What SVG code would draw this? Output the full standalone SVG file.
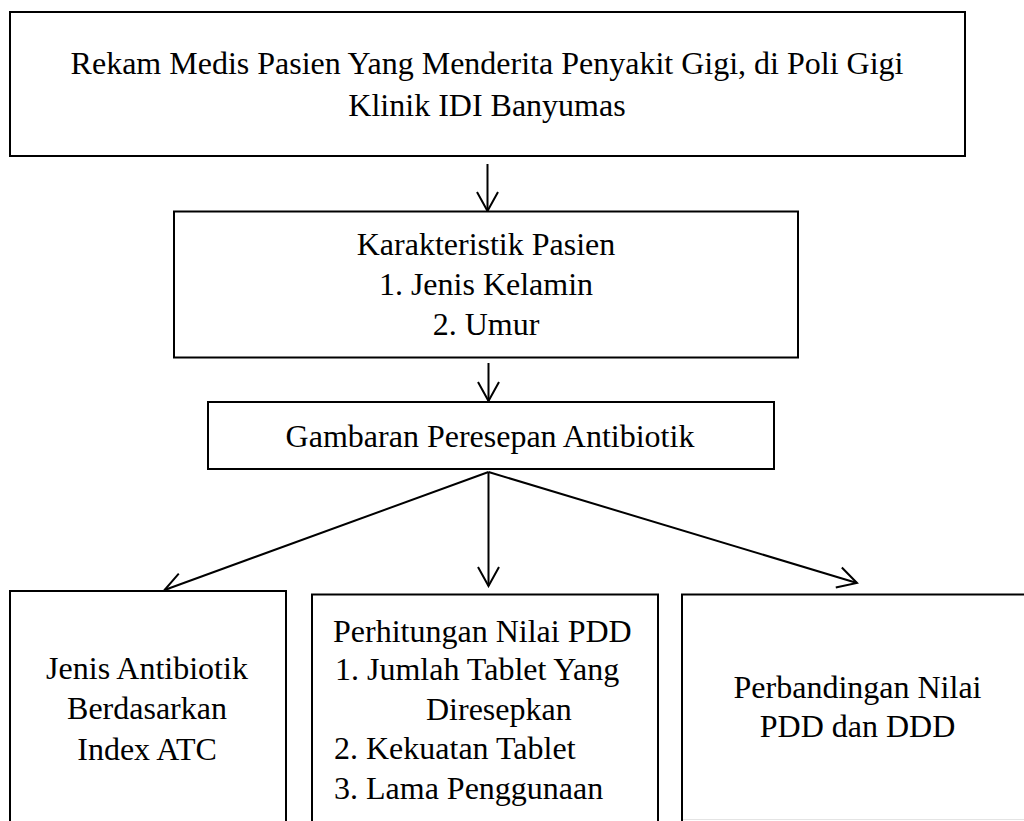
<svg xmlns="http://www.w3.org/2000/svg" width="1024" height="821" viewBox="0 0 1024 821">
<style>
.box{fill:#fff;stroke:#000;stroke-width:2}
.t{font-family:"Liberation Serif","Times New Roman",serif;font-size:32px;fill:#000}
.c{text-anchor:middle}
.conn{stroke:#000;stroke-width:2;fill:none}
</style>
<defs>
<marker id="arr" viewBox="-23 -13 25 26" refX="0" refY="0" markerUnits="userSpaceOnUse" markerWidth="25" markerHeight="26" orient="auto">
<path d="M-19,-10.5 L0,0 L-19,10.5" fill="none" stroke="#000" stroke-width="2"/>
</marker>
</defs>
<rect width="1024" height="821" fill="#fff"/>
<g id="connectors">
<line class="conn" x1="487.5" y1="164" x2="487.5" y2="211" marker-end="url(#arr)"/>
<line class="conn" x1="488.5" y1="363" x2="488.5" y2="401" marker-end="url(#arr)"/>
<line class="conn" x1="488.5" y1="472" x2="164.5" y2="590" marker-end="url(#arr)"/>
<line class="conn" x1="488.5" y1="472" x2="488.5" y2="586" marker-end="url(#arr)"/>
<line class="conn" x1="488.5" y1="472" x2="857" y2="583" marker-end="url(#arr)"/>
</g>
<g id="node-rekam-medis">
<rect class="box" x="10" y="12" width="955" height="144"/>
<text class="t c" x="487" y="74">Rekam Medis Pasien Yang Menderita Penyakit Gigi, di Poli Gigi</text>
<text class="t c" x="487" y="116">Klinik IDI Banyumas</text>
</g>
<g id="node-karakteristik">
<rect class="box" x="174" y="211.5" width="624" height="146"/>
<text class="t c" x="486" y="255">Karakteristik Pasien</text>
<text class="t c" x="486" y="294.5">1. Jenis Kelamin</text>
<text class="t c" x="486" y="335">2. Umur</text>
</g>
<g id="node-gambaran">
<rect class="box" x="208" y="402" width="566" height="67"/>
<text class="t c" x="490" y="447">Gambaran Peresepan Antibiotik</text>
</g>
<g id="node-jenis-antibiotik">
<rect class="box" x="10" y="591" width="276" height="260"/>
<text class="t c" x="147" y="679">Jenis Antibiotik</text>
<text class="t c" x="147" y="719">Berdasarkan</text>
<text class="t c" x="147" y="760">Index ATC</text>
</g>
<g id="node-perhitungan">
<rect class="box" x="312" y="594.5" width="346" height="260"/>
<text class="t" x="333" y="641.5">Perhitungan Nilai PDD</text>
<text class="t" x="335" y="680">1. Jumlah Tablet Yang</text>
<text class="t" x="426" y="719.5">Diresepkan</text>
<text class="t" x="334" y="758.5">2. Kekuatan Tablet</text>
<text class="t" x="334" y="798.5">3. Lama Penggunaan</text>
</g>
<g id="node-perbandingan">
<path d="M1030,594.5 H682 V830" fill="#fff" stroke="#000" stroke-width="2"/>
<line x1="683" y1="819.5" x2="1024" y2="819.5" stroke="#e4e4e4" stroke-width="1"/>
<text class="t c" x="857.5" y="698">Perbandingan Nilai</text>
<text class="t c" x="857.5" y="737">PDD dan DDD</text>
</g>
</svg>
